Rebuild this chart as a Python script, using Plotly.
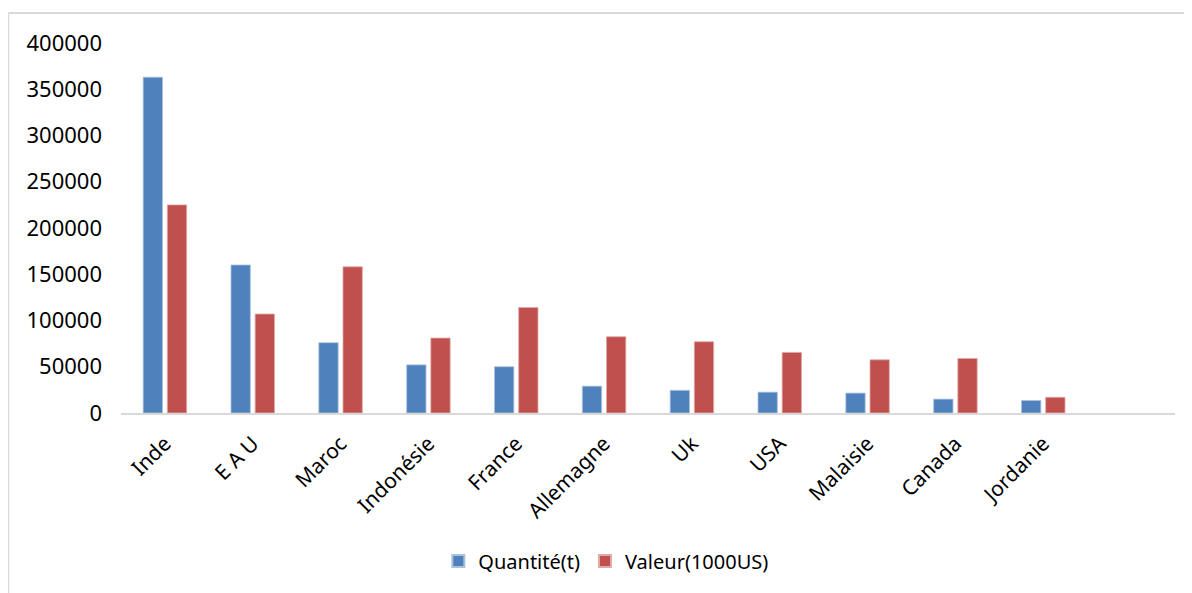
import plotly.graph_objects as go

countries = ["Inde", "E A U", "Maroc", "Indonésie", "France", "Allemagne",
             "Uk", "USA", "Malaisie", "Canada", "Jordanie"]
quantite = [363000, 160000, 76000, 52000, 50000, 29000, 24500, 22500, 21500, 15000, 13500]
valeur = [225000, 107000, 158000, 81000, 114000, 82500, 77000, 65500, 57500, 59000, 17000]
y_ticks = [0, 50000, 100000, 150000, 200000, 250000, 300000, 350000, 400000]

xpos = list(range(len(countries)))
FONT = "Noto Sans, Liberation Sans, sans-serif"

fig = go.Figure()
fig.add_trace(go.Bar(x=xpos, y=quantite, name="Quantité(t)",
                     marker=dict(color="#4f81bd", line=dict(color="#a9c0de", width=0.8))))
fig.add_trace(go.Bar(x=xpos, y=valeur, name="Valeur(1000US)",
                     marker=dict(color="#c0504d", line=dict(color="#e0a8a6", width=0.8))))

fig.update_layout(
    width=1192, height=593,
    margin=dict(l=113, r=25, t=35, b=188),
    paper_bgcolor="white", plot_bgcolor="white",
    barmode="group", bargap=0.45, bargroupgap=0.2,
    font=dict(family=FONT, size=22, color="#000000"),
    showlegend=True,
    legend=dict(orientation="h", x=0.46, xanchor="center", y=-0.4, yanchor="middle",
                font=dict(family=FONT, size=20), itemsizing="constant",
                itemwidth=30, tracegroupgap=0),
    xaxis=dict(range=[-0.5, 11.5], tickmode="array", tickvals=xpos, ticktext=countries,
               tickangle=-45, showgrid=False, zeroline=False,
               showline=True, linecolor="#d9d9d9", linewidth=2, ticks="",
               ticklabelstandoff=8,
               tickfont=dict(family=FONT, size=21)),
    yaxis=dict(range=[0, 400000], tickmode="array", tickvals=y_ticks,
               ticktext=[str(v) for v in y_ticks], showgrid=False, zeroline=False,
               showline=False, ticks="", ticklabelstandoff=18,
               tickfont=dict(family=FONT, size=22)),
    shapes=[
        dict(type="line", xref="paper", yref="paper", x0=-0.107, x1=1.03, y0=1.081, y1=1.081,
             line=dict(color="#d9d9d9", width=2)),
        dict(type="line", xref="paper", yref="paper", x0=-0.107, x1=-0.107, y0=1.081, y1=-0.52,
             line=dict(color="#d9d9d9", width=2)),
    ],
)

fig.write_html("out.html")
